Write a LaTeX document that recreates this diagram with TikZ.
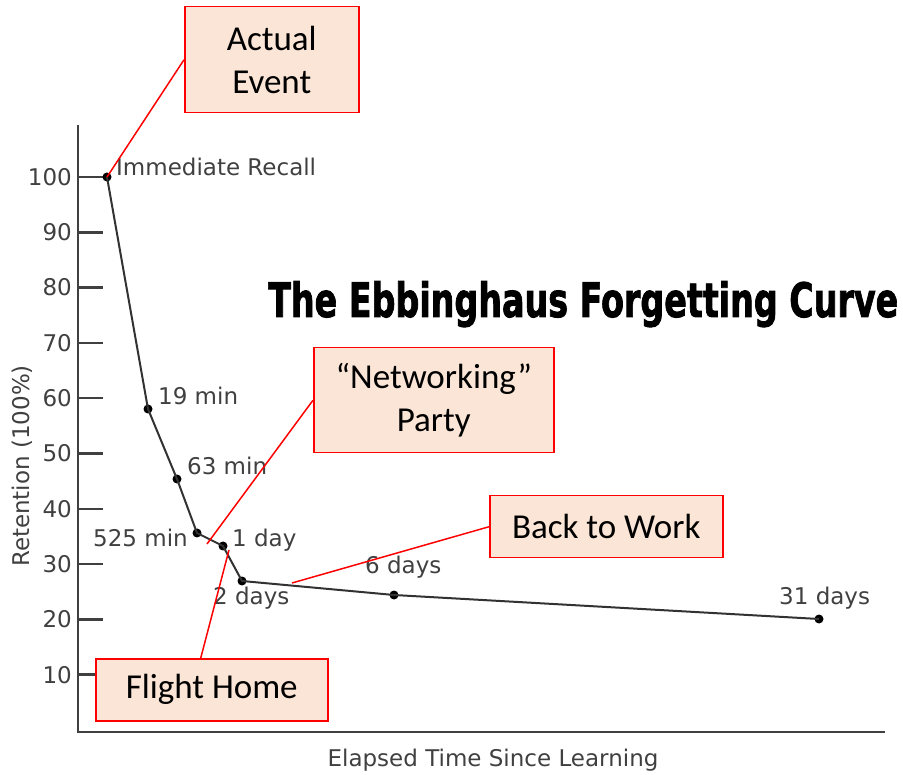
\documentclass[tikz,border=0pt]{standalone}
\usepackage{fontspec}
\setmainfont{Carlito}
\newfontfamily\chartfont{DejaVu Sans}
\newfontfamily\titlefont{DejaVu Sans}[FakeBold=2]
\usetikzlibrary{positioning}
\definecolor{calloutfill}{RGB}{251,229,214}
\definecolor{calloutred}{RGB}{255,0,0}
\definecolor{chartgray}{RGB}{64,64,64}
\definecolor{curvegray}{RGB}{50,50,50}
\tikzset{
  callout/.style={draw=calloutred, fill=calloutfill, line width=1.5pt, align=center,
    inner sep=0pt, anchor=north west, font=\fontsize{35}{43}\selectfont},
  lead/.style={draw=calloutred, line width=1.5pt},
  dot/.style={circle, fill=black, inner sep=0pt, minimum size=9pt},
  lbl/.style={font=\chartfont\fontsize{23}{27}\selectfont, text=chartgray, inner sep=0pt, anchor=base west},
  axlbl/.style={font=\chartfont\fontsize{23}{27}\selectfont, text=chartgray, inner sep=0pt},
  axis/.style={draw=chartgray, line width=2.5pt},
  curve/.style={draw=curvegray, line width=2pt}
}
\begin{document}
\begin{tikzpicture}[x=1pt,y=-1pt]
  \useasboundingbox (0,0) rectangle (903,775);
  % axes
  \draw[axis] (78,125) -- (78,732) -- (885,732);
  \foreach \v in {10,20,...,100} {
    \draw[axis] (78,{177+(100-\v)*5.53}) -- ++(25,0);
    \node[lbl, anchor=east] (t\v) at (72,{177+(100-\v)*5.53}) {\v};
  }
  \node[axlbl, rotate=90] (ylab) at (22,466) {Retention (100\%)};
  \node[axlbl] (xlab) at (493,760) {Elapsed Time Since Learning};
  % title
  \node[anchor=base west, inner sep=0pt] (title) at (268,317)
    {\resizebox{630pt}{36pt}{\titlefont\bfseries The Ebbinghaus Forgetting Curve}};
  % data points
  \node[dot] (p100) at (107,177) {};
  \node[dot] (p19) at (148,409) {};
  \node[dot] (p63) at (177,479) {};
  \node[dot] (p525) at (197,533) {};
  \node[dot] (p1d) at (223,546) {};
  \node[dot] (p2d) at (242,581) {};
  \node[dot] (p6d) at (394,595) {};
  \node[dot] (p31d) at (819,619) {};
  \draw[curve] (p100.center) -- (p19.center) -- (p63.center) -- (p525.center) -- (p1d.center)
    -- (p2d.center) -- (p6d.center) -- (p31d.center);
  \node[lbl] (l100) at (116,176) {Immediate Recall};
  \node[lbl] (l19) at (158,405) {19 min};
  \node[lbl] (l63) at (187,475) {63 min};
  \node[lbl, anchor=base east] (l525) at (188,547) {525 min};
  \node[lbl] (l1d) at (232,547) {1 day};
  \node[lbl] (l2d) at (213,605) {2 days};
  \node[lbl] (l6d) at (365,573) {6 days};
  \node[lbl] (l31d) at (779,605) {31 days};
  % callouts
  \coordinate (partyend) at (207,544);
  \coordinate (flightend) at (229,550);
  \coordinate (workend) at (292,583);
  \node[callout, minimum width=174pt, minimum height=106pt] (event) at (184,6) {Actual\\Event};
  \node[callout, minimum width=240pt, minimum height=105pt] (party) at (313,347) {``Networking''\\Party};
  \node[callout, minimum width=233pt, minimum height=62pt] (work) at (489,495) {Back to Work};
  \node[callout, minimum width=232pt, minimum height=62pt] (flight) at (95,658) {Flight Home};
  \draw[lead] (event.west) -- (p100.center);
  \draw[lead] (party.west) -- (partyend);
  \draw[lead] (work.west) -- (workend);
  \draw[lead] ([xshift=-11pt]flight.north) -- (flightend);
\end{tikzpicture}
\end{document}
